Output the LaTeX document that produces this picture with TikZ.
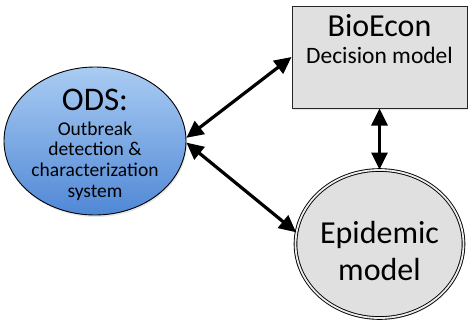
\documentclass[tikz,border=0pt]{standalone}
\usepackage{fontspec}
\setmainfont{Carlito}
\usetikzlibrary{arrows.meta,shapes.geometric,shadows}
\definecolor{boxgray}{HTML}{E0E0E0}
\definecolor{odstop}{HTML}{AACCF3}
\definecolor{odsbot}{HTML}{5088D6}
\begin{document}
\begin{tikzpicture}[x=1pt,y=-1pt,
  conn/.style={line width=3.2pt,{Triangle[length=17pt,width=16pt]}-{Triangle[length=17pt,width=16pt]}},
  lbl/.style={anchor=base,inner sep=0pt},
  shad/.style={drop shadow={opacity=0.2,shadow xshift=1pt,shadow yshift=-2pt}}]
\useasboundingbox (0,0) rectangle (468,322);
\node[ellipse,draw,line width=0.9pt,top color=odstop,bottom color=odsbot,shad,
  minimum width=182pt,minimum height=148pt,inner sep=0pt] (ods) at (95,141) {};
\node[rectangle,draw=black!85,line width=1pt,fill=boxgray,shad,
  minimum width=175pt,minimum height=102pt,inner sep=0pt] (bio) at (379.5,57) {};
\node[ellipse,draw,line width=0.9pt,double=boxgray!60!white,double distance=1.8pt,fill=boxgray,shad,
  minimum width=168pt,minimum height=148pt,inner sep=0pt] (epi) at (379.5,244) {};
\node[lbl,font=\fontsize{33}{34}\selectfont] (t1) at (95,110.5) {ODS:};
\node[lbl,font=\fontsize{19.5}{22}\selectfont] (t2) at (95,135) {Outbreak};
\node[lbl,font=\fontsize{19.5}{22}\selectfont] (t3) at (95,155.5) {detection \&};
\node[lbl,font=\fontsize{19.5}{22}\selectfont] (t4) at (95,176.5) {characterization};
\node[lbl,font=\fontsize{19.5}{22}\selectfont] (t5) at (95,197.5) {system};
\node[lbl,font=\fontsize{32}{34}\selectfont] (t6) at (379.5,36) {BioEcon};
\node[lbl,font=\fontsize{23.5}{26}\selectfont] (t7) at (379.5,63) {Decision model};
\node[lbl,font=\fontsize{32}{34}\selectfont] (t8) at (379.5,243) {Epidemic};
\node[lbl,font=\fontsize{32}{34}\selectfont] (t9) at (379.5,280) {model};
\draw[conn] (ods.2) -- (bio.west);
\draw[conn] (ods.-1) -- (epi.172);
\draw[conn] (bio.south) -- (epi.north);
\end{tikzpicture}
\end{document}
